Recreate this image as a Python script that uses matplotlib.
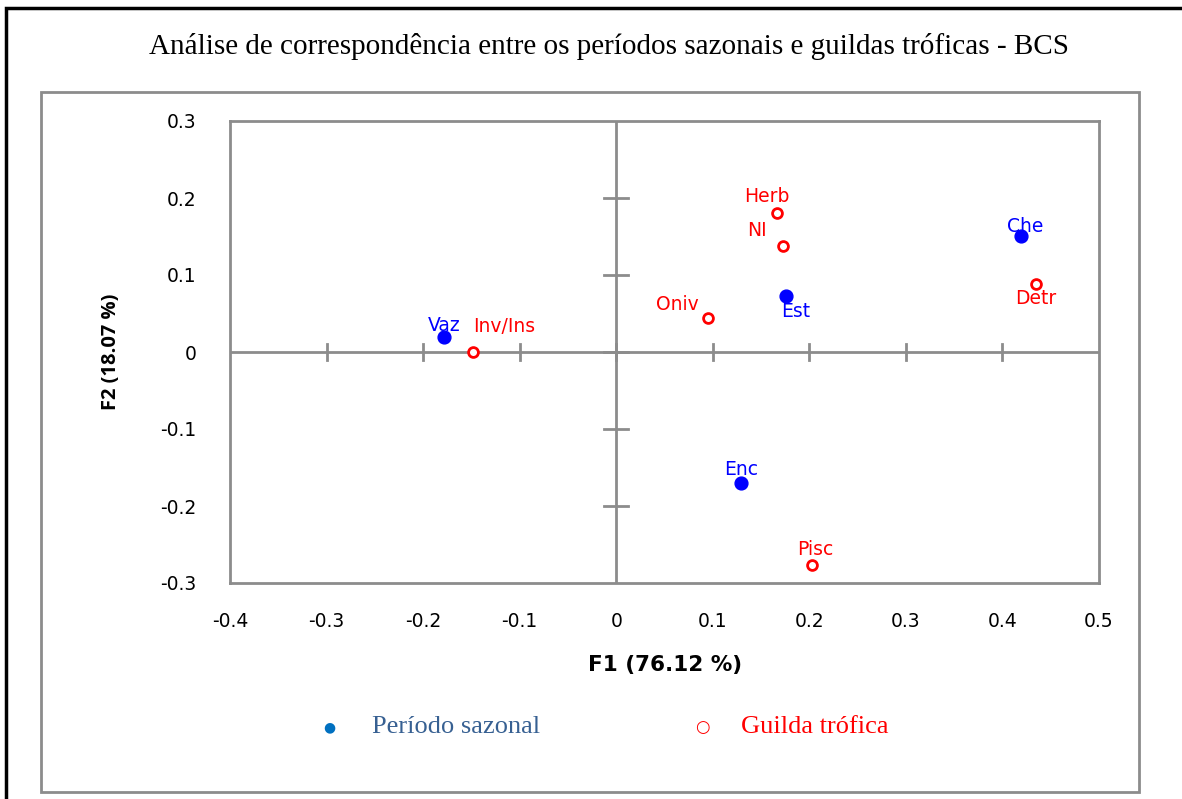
import matplotlib
matplotlib.use("Agg")
import matplotlib.pyplot as plt
from matplotlib.patches import Rectangle

# Data
season_labels = ["Vaz", "Est", "Che", "Enc"]
season_f1 = [-0.178, 0.176, 0.419, 0.129]
season_f2 = [0.019, 0.073, 0.151, -0.170]

guild_labels = ["Inv/Ins", "Oniv", "Herb", "NI", "Detr", "Pisc"]
guild_f1 = [-0.148, 0.095, 0.167, 0.173, 0.435, 0.203]
guild_f2 = [0.000, 0.044, 0.181, 0.138, 0.088, -0.277]

x_ticks = [-0.4, -0.3, -0.2, -0.1, 0, 0.1, 0.2, 0.3, 0.4, 0.5]
y_ticks = [-0.3, -0.2, -0.1, 0, 0.1, 0.2, 0.3]

W, H = 1182, 799
fig = plt.figure(figsize=(W / 100, H / 100), dpi=100)

def fx(px):
    return px / W

def fy(py):
    return 1 - py / H

# outer black border (only left and top visible)
fig.patches.append(Rectangle((fx(6), fy(810)), fx(1195 - 6), (810 - 8) / H,
                             transform=fig.transFigure, fill=False,
                             edgecolor="black", linewidth=2.5))
# inner grey frame
fig.patches.append(Rectangle((fx(41), fy(792)), fx(1139 - 41), (792 - 92) / H,
                             transform=fig.transFigure, fill=False,
                             edgecolor="#8c8c8c", linewidth=2))

ax = fig.add_axes([fx(230), fy(583), fx(1099 - 230), (583 - 121) / H])
ax.set_xlim(-0.4, 0.5)
ax.set_ylim(-0.3, 0.3)
for s in ax.spines.values():
    s.set_color("#8c8c8c")
    s.set_linewidth(2)

grey = "#8c8c8c"
ax.axhline(0, color=grey, lw=2, zorder=1)
ax.axvline(0, color=grey, lw=2, zorder=1)
# tick marks crossing the zero axes
for xv in x_ticks[1:-1]:
    ax.plot([xv, xv], [-0.011, 0.011], color=grey, lw=2, zorder=1)
for yv in y_ticks[1:-1]:
    ax.plot([-0.0125, 0.0125], [yv, yv], color=grey, lw=2, zorder=1)

ax.set_xticks(x_ticks)
ax.set_yticks(y_ticks)
ax.set_xticklabels(["0" if v == 0 else f"{v:g}" for v in x_ticks])
ax.set_yticklabels(["0" if v == 0 else f"{v:g}" for v in y_ticks])
ax.tick_params(length=0, labelsize=13.5)
ax.tick_params(axis="x", pad=21)
ax.tick_params(axis="y", pad=24)
for lab in ax.get_xticklabels() + ax.get_yticklabels():
    lab.set_family("DejaVu Sans")

ax.scatter(season_f1, season_f2, s=85, color="#0000ff", zorder=3)
ax.scatter(guild_f1, guild_f2, s=50, facecolors="white", edgecolors="#ff0000",
           linewidths=2, zorder=3)

season_offsets = {"Vaz": (0, 8.6), "Est": (6.5, -11.5), "Che": (3, 6.5), "Enc": (0, 9.5)}
guild_offsets = {"Inv/Ins": (22, 18), "Oniv": (-22, 10), "Herb": (-8, 11.5),
                 "NI": (-19, 11), "Detr": (0, -10), "Pisc": (2, 11.5)}
for lab, x, y in zip(season_labels, season_f1, season_f2):
    dx, dy = season_offsets[lab]
    ax.annotate(lab, (x, y), xytext=(dx, dy), textcoords="offset points",
                ha="center", va="center", color="#0000ff", fontsize=13.5,
                family="DejaVu Sans")
for lab, x, y in zip(guild_labels, guild_f1, guild_f2):
    dx, dy = guild_offsets[lab]
    ax.annotate(lab, (x, y), xytext=(dx, dy), textcoords="offset points",
                ha="center", va="center", color="#ff0000", fontsize=13.5,
                family="DejaVu Sans")

fig.text(fx(608.5), fy(47), "Análise de correspondência entre os períodos sazonais e guildas tróficas - BCS",
         ha="center", va="center", fontsize=21, family="Liberation Serif")
fig.text(fx(665), fy(665), "F1 (76.12 %)", ha="center", va="center",
         fontsize=15.5, fontweight="bold", family="DejaVu Sans")
fig.text(fx(111), fy(352), "F2 (18.07 %)", ha="center", va="center",
         fontsize=14.5, fontweight="bold", family="Open Sans", rotation=90)

# legend
fig.text(fx(329), fy(727), "●", ha="center", va="center", color="#0070c0",
         fontsize=10, family="DejaVu Sans")
fig.text(fx(372), fy(727), "Período sazonal", ha="left", va="center",
         color="#376092", fontsize=19, family="Liberation Serif")
fig.text(fx(702), fy(727), "○", ha="center", va="center", color="#ff0000",
         fontsize=12, family="DejaVu Sans")
fig.text(fx(741), fy(727), "Guilda trófica", ha="left", va="center",
         color="#ff0000", fontsize=19, family="Liberation Serif")

fig.savefig("out.png", dpi=100)
